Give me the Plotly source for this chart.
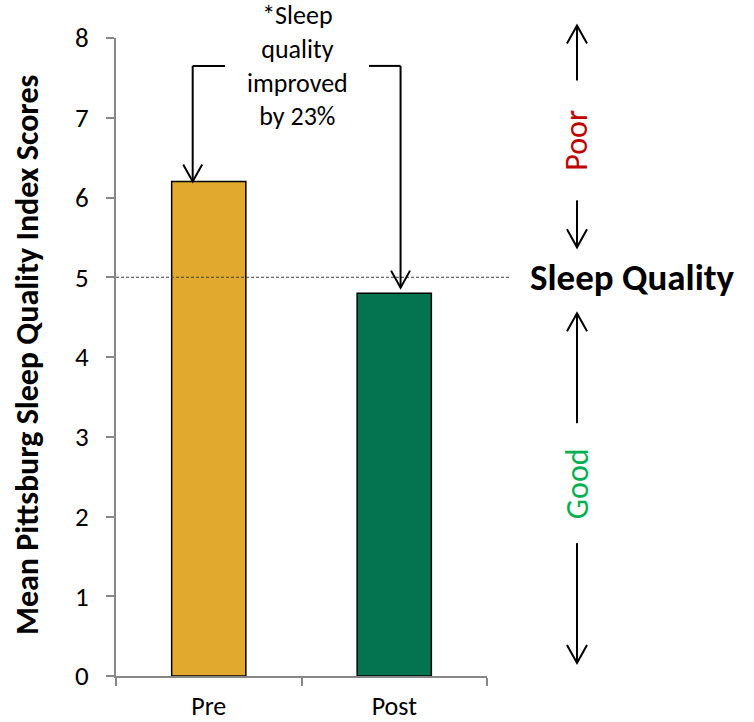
import plotly.graph_objects as go

# Mean Pittsburgh Sleep Quality Index, before and after
phase = ["Pre", "Post"]
psqi_mean = [6.2, 4.8]
bar_colors = ["#E2A92F", "#04734F"]
cutoff = 5  # PSQI > 5 indicates poor sleep quality
y_ticks = [0, 1, 2, 3, 4, 5, 6, 7, 8]
improvement_text = "*Sleep<br>quality<br>improved<br>by 23%"

FONT = "Calibri, Carlito, Lato, sans-serif"
AXIS_GREY = "#878787"

fig = go.Figure(
    go.Bar(
        x=phase,
        y=psqi_mean,
        marker=dict(color=bar_colors, line=dict(color="black", width=1.5)),
        showlegend=False,
        hoverinfo="x+y",
    )
)


def arrow_shapes(x, y_from, y_tip, xref, yref, half_w, head_h):
    """Vertical line ending in an open V arrowhead at y_tip."""
    sign = 1 if y_tip < y_from else -1  # arrow pointing down -> head rises above tip
    line = dict(type="path", xref=xref, yref=yref,
                path=f"M {x},{y_from} L {x},{y_tip}",
                line=dict(color="black", width=2))
    head = dict(type="path", xref=xref, yref=yref,
                path=(f"M {x - half_w},{y_tip + sign * head_h} "
                      f"L {x},{y_tip} L {x + half_w},{y_tip + sign * head_h}"),
                line=dict(color="black", width=2))
    return [line, head]


shapes = []

# dashed cut-off line at PSQI = 5, running out towards the side label
shapes.append(dict(type="line", xref="paper", yref="y", x0=0, x1=1.062,
                   y0=cutoff, y1=cutoff,
                   line=dict(color="#404040", width=1, dash="3px,2px")))

# bracket arrows from the note down onto each bar
bracket_y = 7.65
left_x, right_x = 0.2067, 0.767
shapes.append(dict(type="path", xref="paper", yref="y",
                   path=f"M 0.294,{bracket_y} L {left_x},{bracket_y}",
                   line=dict(color="black", width=2)))
shapes += arrow_shapes(left_x, bracket_y, psqi_mean[0], "paper", "y", 0.0256, 0.213)
shapes.append(dict(type="path", xref="paper", yref="y",
                   path=f"M 0.682,{bracket_y} L {right_x},{bracket_y}",
                   line=dict(color="black", width=2)))
shapes += arrow_shapes(right_x, bracket_y, psqi_mean[1] + 0.07, "paper", "y", 0.0256, 0.213)

# side scale: poor (up) / good (down)
side_x = 1.2426
hw, hh = 0.027, 0.0282
shapes += arrow_shapes(side_x, 0.9334, 1.0196, "paper", "paper", hw, hh)
shapes += arrow_shapes(side_x, 0.7455, 0.6719, "paper", "paper", hw, hh)
shapes += arrow_shapes(side_x, 0.3962, 0.5685, "paper", "paper", hw, hh)
shapes += arrow_shapes(side_x, 0.2083, 0.0204, "paper", "paper", hw, hh)

annotations = [
    dict(text=improvement_text, xref="paper", yref="y", x=0.488, y=bracket_y,
         xanchor="center", yanchor="middle", showarrow=False,
         font=dict(family=FONT, size=26, color="black")),
    dict(text="<b>Mean Pittsburg Sleep Quality Index Scores</b>", xref="paper",
         yref="paper", x=-0.24, y=0.503, textangle=-90, showarrow=False,
         xanchor="center", yanchor="middle",
         font=dict(family=FONT, size=32, color="black")),
    dict(text="<b>Sleep Quality</b>", xref="paper", yref="y", x=1.391, y=cutoff,
         xanchor="center", yanchor="middle", showarrow=False,
         font=dict(family=FONT, size=37, color="black")),
    dict(text="Poor", xref="paper", yref="paper", x=side_x, y=0.839,
         textangle=-90, showarrow=False, xanchor="center", yanchor="middle",
         font=dict(family=FONT, size=32, color="#C00000")),
    dict(text="Good", xref="paper", yref="paper", x=side_x, y=0.3007,
         textangle=-90, showarrow=False, xanchor="center", yanchor="middle",
         font=dict(family=FONT, size=32, color="#00B050")),
]

fig.update_layout(
    width=754,
    height=722,
    margin=dict(l=116, r=267, t=38, b=46, autoexpand=False),
    paper_bgcolor="white",
    plot_bgcolor="white",
    bargap=0.6,
    shapes=shapes,
    annotations=annotations,
    font=dict(family=FONT, color="black"),
)

fig.update_xaxes(
    type="category",
    range=[-0.5, 1.5],
    automargin=False,
    showline=True, linecolor=AXIS_GREY, linewidth=2,
    ticks="outside", tickson="boundaries", ticklen=8, tickcolor=AXIS_GREY, tickwidth=2,
    ticklabelstandoff=6,
    tickfont=dict(family=FONT, size=26, color="black"),
    showgrid=False, zeroline=False,
)
fig.update_yaxes(
    range=[0, 8],
    tickvals=y_ticks,
    automargin=False,
    showline=True, linecolor=AXIS_GREY, linewidth=2,
    ticks="outside", ticklen=8, tickcolor=AXIS_GREY, tickwidth=2,
    ticklabelstandoff=12,
    tickfont=dict(family=FONT, size=27, color="black"),
    showgrid=False, zeroline=False,
)

fig.write_html("out.html")
